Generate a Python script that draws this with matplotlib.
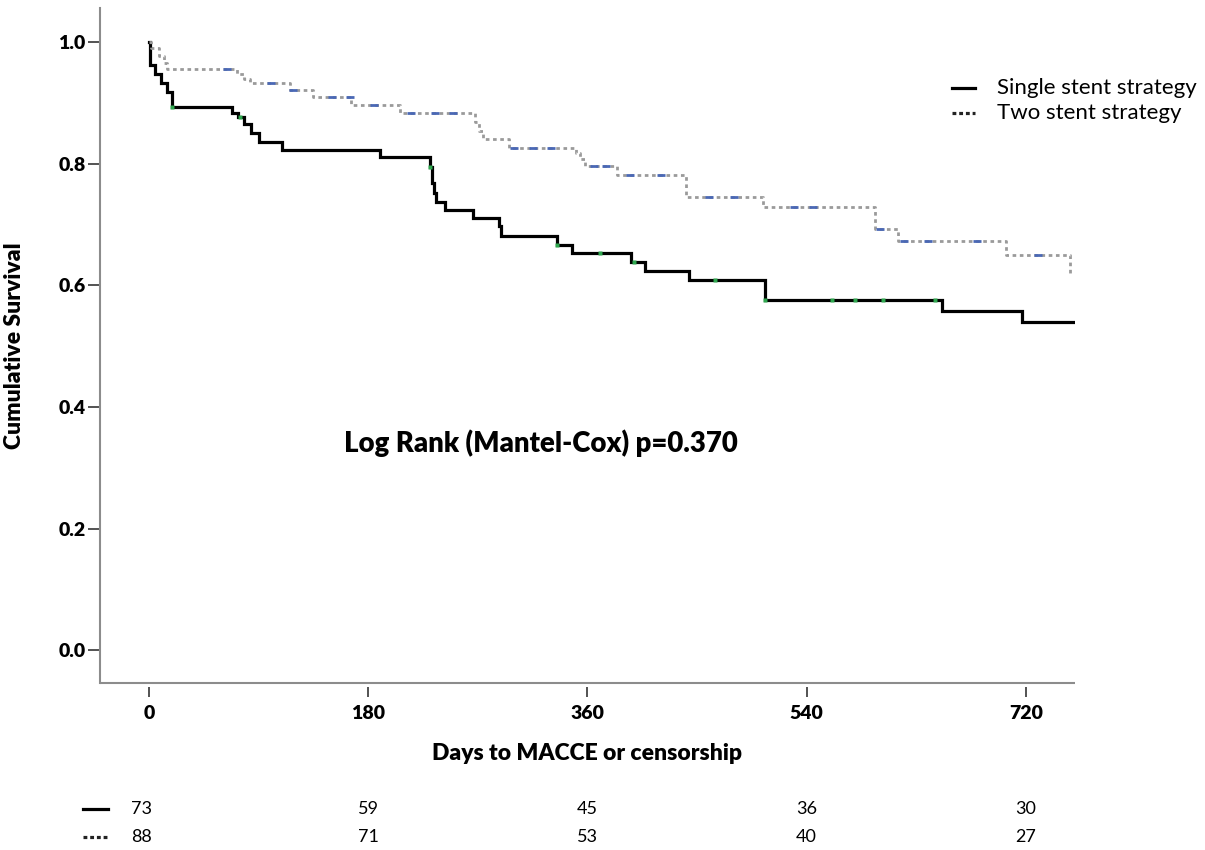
import numpy as np
import matplotlib
matplotlib.use("Agg")
import matplotlib.pyplot as plt
import matplotlib.transforms as mtransforms
from matplotlib.lines import Line2D

plt.rcParams['font.family'] = ['Lato', 'DejaVu Sans']

# Kaplan-Meier steps (days, cumulative survival)
single_days = [0, 1, 5, 10, 15, 19, 68, 73, 78, 84, 90, 109, 190, 231, 232, 234, 236, 243,
               266, 287, 289, 335, 347, 396, 407, 443, 506, 651, 717, 760]
single_surv = [1.0, 0.963, 0.948, 0.933, 0.918, 0.894, 0.884, 0.877, 0.865, 0.851, 0.836, 0.823,
               0.811, 0.795, 0.769, 0.752, 0.737, 0.724, 0.711, 0.697, 0.681, 0.667, 0.653,
               0.639, 0.624, 0.609, 0.576, 0.557, 0.540, 0.540]
single_censored = [19, 75, 231, 335, 370, 398, 465, 506, 561, 580, 603, 645]

two_days = [0, 2, 8, 12, 15, 72, 78, 83, 116, 135, 166, 206, 268, 271, 274, 296, 351, 354,
            358, 384, 441, 504, 596, 615, 704, 756]
two_surv = [1.0, 0.990, 0.977, 0.965, 0.955, 0.947, 0.940, 0.933, 0.921, 0.909, 0.896, 0.884,
            0.869, 0.854, 0.840, 0.826, 0.818, 0.808, 0.797, 0.782, 0.746, 0.729, 0.693,
            0.673, 0.650, 0.620]
two_censored = [64, 100, 118, 150, 165, 185, 215, 235, 250, 300, 315, 330, 365, 375, 395,
                420, 460, 480, 530, 545, 600, 620, 640, 680, 730]

group_labels = ['Single stent strategy', 'Two stent strategy']
risk_days = [0, 180, 360, 540, 720]
single_at_risk = [73, 59, 45, 36, 30]
two_at_risk = [88, 71, 53, 40, 27]


def surv_at(days, surv, t):
    i = np.searchsorted(days, t, side='right') - 1
    return surv[i]


W, H = 1205, 850
BOLD = 'heavy'
fig = plt.figure(figsize=(W / 100, H / 100), dpi=100)
ax = fig.add_axes([100 / W, 1 - 683 / H, 975 / W, 675 / H])

solid_kw = dict(color='black', lw=2.3)
dot_kw = dict(color='#9a9a9a', lw=2.0, linestyle=(0, (1.3, 1.3)))
# legend symbols are drawn darker than the plotted curve
key_kw = [solid_kw, dict(color='#222222', lw=2.3, linestyle=(0, (1.2, 0.9)))]

ax.step(single_days, single_surv, where='post', solid_joinstyle='miter', **solid_kw)
ax.step(two_days, two_surv, where='post', **dot_kw)

ax.plot(single_censored, [surv_at(single_days, single_surv, t) for t in single_censored],
        ls='none', marker='s', ms=2.2, color='#2fa84f', mec='none')
ax.plot(two_censored, [surv_at(two_days, two_surv, t) for t in two_censored],
        ls='none', marker='_', ms=6, mew=2.0, color='#4a68b5')

ax.set_xlim(-40.2, 760.3)
ax.set_ylim(-0.054, 1.056)
ax.set_xticks(risk_days)
ax.set_yticks([0.0, 0.2, 0.4, 0.6, 0.8, 1.0])
ax.set_yticklabels(['0.0', '0.2', '0.4', '0.6', '0.8', '1.0'])

for s in ['top', 'right']:
    ax.spines[s].set_visible(False)
ax.spines['left'].set_color('#8c8c8c')
ax.spines['left'].set_linewidth(1.5)
ax.spines['bottom'].set_visible(False)
ax.spines['bottom'].set_position(('outward', 3))
ax.plot([0, 1], [0, 0], transform=ax.transAxes, color='#8c8c8c', lw=1.5,
        clip_on=False, solid_capstyle='butt')

ax.tick_params(axis='y', direction='out', length=8.5, width=1.3, color='#444444',
               pad=2, labelsize=14)
ax.tick_params(axis='x', direction='out', length=7.5, width=1.3, color='#444444',
               pad=5, labelsize=14)
for lab in ax.get_xticklabels() + ax.get_yticklabels():
    lab.set_fontweight(BOLD)

ax.set_ylabel('Cumulative Survival', fontsize=16.5, fontweight=BOLD)
ax.yaxis.set_label_coords(-0.077, 0.5)
ax.set_xlabel('Days to MACCE or censorship', fontsize=16.5, fontweight=BOLD)
ax.xaxis.set_label_coords(0.5, -0.104)
ax.xaxis.label.set_va('center')

ax.text(160, 0.34, 'Log Rank (Mantel-Cox) p=0.370', fontsize=19.8, fontweight=BOLD,
        ha='left', va='center')

# legend (top right)
for y_px, kw, lab in [(88, key_kw[0], group_labels[0]), (113, key_kw[1], group_labels[1])]:
    fig.add_artist(Line2D([952 / W, 975 / W], [1 - y_px / H] * 2, transform=fig.transFigure, **kw))
    fig.text(997 / W, 1 - y_px / H, lab, fontsize=16, va='center')

# number at risk
trans = mtransforms.blended_transform_factory(ax.transData, fig.transFigure)
for y_px, kw, vals in [(809, key_kw[0], single_at_risk), (837, key_kw[1], two_at_risk)]:
    fig.add_artist(Line2D([83 / W, 108 / W], [1 - y_px / H] * 2, transform=fig.transFigure, **kw))
    for d, v in zip(risk_days, vals):
        xd = d - 6 if d == 0 else d
        ax.text(xd, 1 - y_px / H, str(v), transform=trans, fontsize=13,
                ha='center', va='center', clip_on=False)

fig.savefig('out.png', dpi=100)
